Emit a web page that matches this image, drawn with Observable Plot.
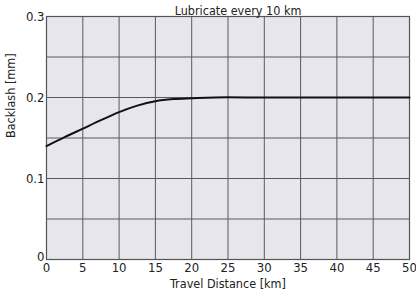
<!DOCTYPE html>
<html>
<head>
<meta charset="utf-8">
<script src="https://cdn.jsdelivr.net/npm/d3@7"></script>
<script src="https://cdn.jsdelivr.net/npm/@observablehq/plot@0.6"></script>
<style>
  html, body { margin: 0; padding: 0; background: #fff; }
</style>
</head>
<body>
<div id="chart"></div>
<script>
const distance = [0, 2.5, 5, 7.5, 10, 12.5, 15, 17.5, 20, 25, 30, 35, 40, 45, 50];
const backlash = [0.140, 0.151, 0.1615, 0.172, 0.182, 0.190, 0.1955, 0.198, 0.199, 0.2003, 0.2, 0.2, 0.2, 0.2, 0.2];
const xTicks = [0, 5, 10, 15, 20, 25, 30, 35, 40, 45, 50];
const yGrid = [0, 0.05, 0.1, 0.15, 0.2, 0.25, 0.3];
const yTicks = [0, 0.1, 0.2, 0.3];
const title = "Lubricate every 10 km";

const data = distance.map((d, i) => ({x: d, y: backlash[i]}));
const FONT = "'DejaVu Sans Condensed', 'Liberation Sans Narrow', Arial, sans-serif";

const chart = Plot.plot({
  width: 416,
  height: 293,
  marginLeft: 46,
  marginRight: 7,
  marginTop: 16,
  marginBottom: 34,
  style: {fontSize: "13px", fontFamily: FONT, color: "#222"},
  x: {domain: [0, 50], ticks: xTicks, label: null},
  y: {domain: [0, 0.3], ticks: yTicks, label: null},
  marks: [
    Plot.frame({fill: "#e6e6ec", stroke: null}),
    Plot.ruleX(xTicks, {stroke: "#5a5a5a", strokeWidth: 1}),
    Plot.ruleY(yGrid, {stroke: "#5a5a5a", strokeWidth: 1}),
    Plot.frame({stroke: "#555", strokeWidth: 1.2}),
    Plot.axisX({ticks: xTicks, tickSize: 0, tickPadding: 3, fontSize: 13, label: null}),
    Plot.axisY(yTicks.filter(d => d !== 0), {tickSize: 0, tickPadding: 2, fontSize: 13, label: null, tickFormat: d => d.toFixed(1)}),
    Plot.axisY([0], {tickSize: 0, tickPadding: 2, fontSize: 13, label: null, tickFormat: () => "0", dy: -3}),
    Plot.line(data, {x: "x", y: "y", stroke: "#111", strokeWidth: 2, curve: "monotone-x"}),
    Plot.text([title], {frameAnchor: "top", dy: -10, dx: 10, fontSize: 12.5, fill: "#222"}),
    Plot.text(["Backlash [mm]"], {frameAnchor: "left", dx: -36, rotate: -90, fontSize: 12.5, fill: "#222"}),
    Plot.text(["Travel Distance [km]"], {frameAnchor: "bottom", dy: 28, fontSize: 12.5, fill: "#222"})
  ]
});
document.getElementById("chart").append(chart);
</script>
</body>
</html>
